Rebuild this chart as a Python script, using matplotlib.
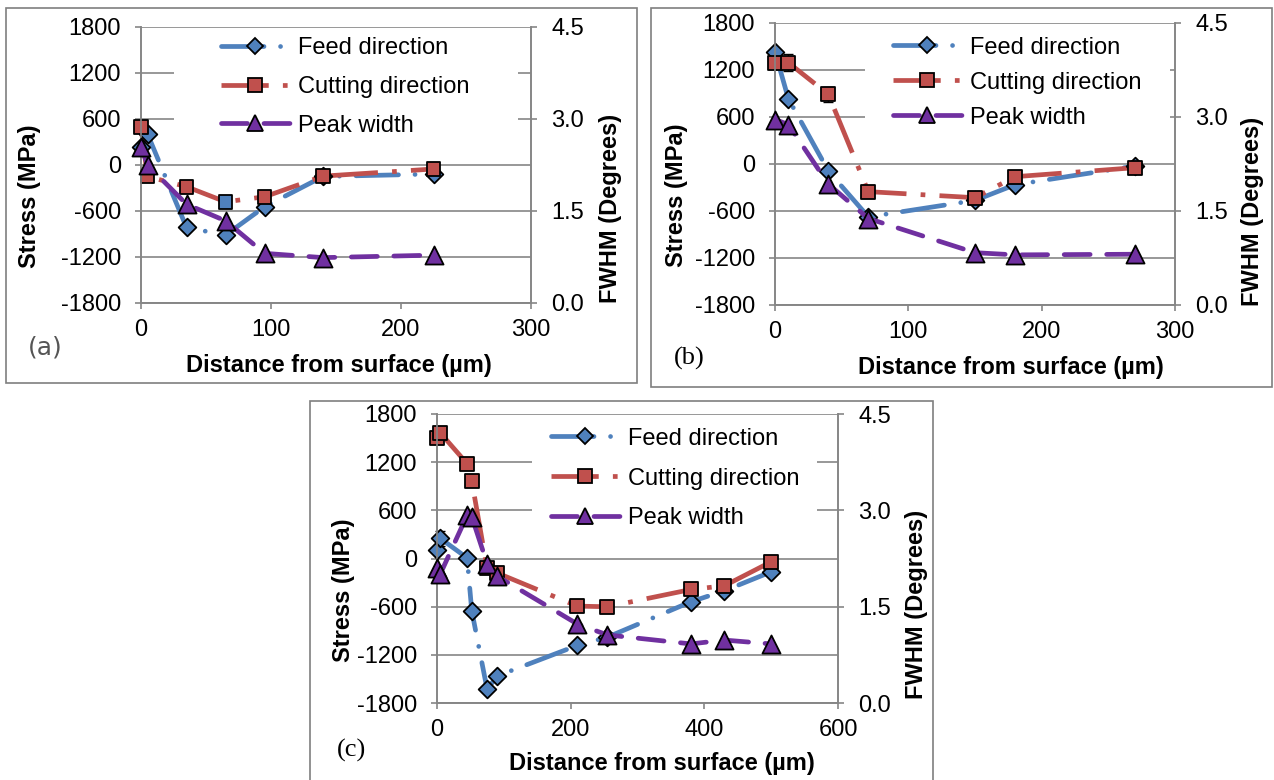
import numpy as np
import matplotlib.pyplot as plt
from matplotlib.lines import Line2D
from matplotlib.patches import Rectangle

plt.rcParams['font.family'] = ['Liberation Sans', 'DejaVu Sans']
plt.rcParams['axes.unicode_minus'] = False

# ---- data ----
# (a)
a_x = [0, 5, 35, 65, 95, 140, 225]
a_feed = [240, 405, -815, -915, -545, -150, -118]
a_cut = [490, -150, -283, -480, -415, -145, -52]
a_peak = [2.55, 2.25, 1.61, 1.34, 0.81, 0.74, 0.78]
a_cut_face = ['r', 'r', 'r', 'b', 'r', 'r', 'r']   # one square is blue in the original

# (b)
b_x = [0, 10, 40, 70, 150, 180, 270]
b_feed = [1434, 834, -89, -675, -465, -265, -26]
b_cut = [1294, 1294, 889, -353, -430, -162, -47]
b_cut_err = [0, 110, 100, 0, 0, 0, 0]
b_peak = [2.96, 2.88, 1.93, 1.38, 0.835, 0.80, 0.81]

# (c)
c_x = [0, 5, 45, 52, 75, 90, 210, 255, 380, 430, 500]
c_feed = [104, 250, 8, -651, -1630, -1464, -1083, -980, -539, -402, -166]
c_feed_err = [0, 90, 0, 0, 0, 0, 0, 0, 0, 0, 0]
c_cut = [1506, 1564, 1182, 966, -124, -180, -593, -601, -386, -340, -41]
c_peak = [2.10, 2.01, 2.92, 2.90, 2.17, 1.975, 1.23, 1.06, 0.92, 0.98, 0.92]

labels = ['Feed direction', 'Cutting direction', 'Peak width']

BLUE = '#4F81BD'
RED = '#C0504D'
PURPLE = '#7030A0'
GRID = '#868686'
LW = 3.4
FS = 17
W, H = 1274, 780
MS_D, MS_S, MS_T = 9, 10, 13   # marker sizes (pt)

feed_ls = (0, (9, 3.5, 0.01, 3.5))
cut_ls = (0, (10, 3, 1, 3))
peak_ls = (0, (5.5, 3.5))
face_map = {'r': RED, 'b': BLUE}

fig = plt.figure(figsize=(W / 100, H / 100), dpi=100)


def px_rect(x0, y0, x1, y1):
    return [x0 / W, 1 - y1 / H, (x1 - x0) / W, (y1 - y0) / H]


def panel(rect, x, feed, cut, peak, xmax, xstep, cut_face=None,
          feed_err=None, cut_err=None, box=None, leg=None,
          ylab=None, y2lab=None, xlab=None):
    ax = fig.add_axes(px_rect(*rect))
    ax2 = ax.twinx()
    ax.set_axisbelow(True)

    x = np.array(x)
    ax.plot(x, feed, color=BLUE, lw=LW, linestyle=feed_ls,
            dash_capstyle='round', clip_on=False, zorder=2)
    ax.plot(x, cut, color=RED, lw=LW, linestyle=cut_ls,
            dash_capstyle='butt', clip_on=False, zorder=2)
    ax2.plot(x, peak, color=PURPLE, lw=LW, linestyle=peak_ls,
             dash_capstyle='round', clip_on=False, zorder=2)

    for err, vals in ((feed_err, feed), (cut_err, cut)):
        if err is not None:
            e = np.array(err)
            m = e > 0
            ax.errorbar(x[m], np.array(vals)[m], yerr=e[m], fmt='none',
                        ecolor='k', elinewidth=1, capsize=3.5, capthick=1,
                        zorder=2.5, clip_on=False)

    ax.scatter(x, feed, marker='D', s=MS_D ** 2, c=BLUE, edgecolors='k',
               linewidths=1.3, zorder=3, clip_on=False)
    fc = [face_map[c] for c in cut_face] if cut_face else RED
    ax.scatter(x, cut, marker='s', s=MS_S ** 2, c=fc, edgecolors='k',
               linewidths=1.3, zorder=3, clip_on=False)
    ax2.scatter(x, peak, marker='^', s=MS_T ** 2, c=PURPLE, edgecolors='k',
                linewidths=1.3, zorder=3, clip_on=False)

    ax.set_xlim(0, xmax)
    ax.set_xticks(np.arange(0, xmax + 1, xstep))
    ax.set_ylim(-1800, 1800)
    ax.set_yticks(np.arange(-1800, 1801, 600))
    ax2.set_ylim(0, 4.5)
    ax2.set_yticks([0, 1.5, 3.0, 4.5])
    ax2.set_yticklabels(['0.0', '1.5', '3.0', '4.5'])
    ax.yaxis.grid(True, color=GRID, lw=1.2)

    for a in (ax, ax2):
        for s in a.spines.values():
            s.set_color(GRID)
            s.set_linewidth(1.2)
        a.spines['top'].set_visible(False)
        a.tick_params(colors='black', labelsize=FS, width=1.2, length=4.5)
        a.tick_params(axis='both', color=GRID)
    ax.tick_params(axis='y', pad=10)
    ax2.tick_params(axis='y', pad=10)
    ax.tick_params(axis='x', pad=7)

    # white area behind legend, as in the original
    ax.add_patch(Rectangle((box[0], box[1]), box[2] - box[0], box[3] - box[1],
                           transform=ax.transAxes, facecolor='white',
                           edgecolor='none', zorder=1.5))
    handles = [
        Line2D([], [], color=BLUE, lw=LW, linestyle=feed_ls,
               dash_capstyle='round', marker='D', markersize=MS_D - 1,
               markerfacecolor=BLUE, markeredgecolor='k', markeredgewidth=1.3),
        Line2D([], [], color=RED, lw=LW, linestyle=cut_ls,
               dash_capstyle='butt', marker='s', markersize=MS_S - 0.5,
               markerfacecolor=RED, markeredgecolor='k', markeredgewidth=1.3),
        Line2D([], [], color=PURPLE, lw=LW, linestyle=peak_ls,
               dash_capstyle='round', marker='^', markersize=MS_T - 1.5,
               markerfacecolor=PURPLE, markeredgecolor='k', markeredgewidth=1.3),
    ]
    lg = ax2.legend(handles, labels, loc='upper left',
                    bbox_to_anchor=(leg[0], leg[1]), frameon=False,
                    fontsize=FS, handlelength=2.92, handletextpad=0.34,
                    labelspacing=leg[2], borderpad=0, borderaxespad=0,
                    numpoints=1)
    lg.set_zorder(10)

    ax.text(ylab[0], ylab[1], 'Stress (MPa)', transform=ax.transAxes,
            rotation=90, ha='center', va='center', fontsize=FS,
            fontweight='bold')
    ax.text(y2lab[0], y2lab[1], 'FWHM (Degrees)', transform=ax.transAxes,
            rotation=90, ha='center', va='center', fontsize=FS,
            fontweight='bold')
    ax.text(xlab[0], xlab[1], 'Distance from surface (\u00b5m)',
            transform=ax.transAxes, ha='center', va='center', fontsize=FS,
            fontweight='bold')
    return ax


panel((141, 27, 531, 303), a_x, a_feed, a_cut, a_peak, 300, 100,
      cut_face=a_cut_face, box=(0.085, 0.572, 0.967, 0.978),
      leg=(0.205, 0.962, 0.7), ylab=(-0.285, 0.388), y2lab=(1.205, 0.344),
      xlab=(0.507, -0.225))

panel((775, 23, 1175, 305), b_x, b_feed, b_cut, b_peak, 300, 100,
      cut_err=b_cut_err, box=(0.225, 0.585, 0.988, 0.975),
      leg=(0.295, 0.952, 0.55), ylab=(-0.245, 0.39), y2lab=(1.195, 0.333),
      xlab=(0.59, -0.22))

panel((437, 414, 838, 703), c_x, c_feed, c_cut, c_peak, 600, 200,
      feed_err=c_feed_err, box=(0.237, 0.58, 0.948, 0.972),
      leg=(0.284, 0.953, 0.76), ylab=(-0.232, 0.39), y2lab=(1.195, 0.34),
      xlab=(0.56, -0.208))

# panel frames
for x0, y0, x1, y1 in [(6, 8, 637, 383), (651, 8, 1272, 387), (310, 401, 933, 781)]:
    fig.add_artist(Rectangle((x0 / W, 1 - y1 / H), (x1 - x0) / W, (y1 - y0) / H,
                             transform=fig.transFigure, fill=False,
                             edgecolor='#7f7f7f', lw=1.2))

fig.text(45 / W, 1 - 348 / H, '(a)', ha='center', va='center', fontsize=18,
         color='#555555', family='DejaVu Sans')
fig.text(689 / W, 1 - 358 / H, '(b)', ha='center', va='center', fontsize=19,
         family='Liberation Serif')
fig.text(352 / W, 1 - 750 / H, '(c)', ha='center', va='center', fontsize=19,
         family='Liberation Serif')

fig.savefig('out.png', dpi=100)
